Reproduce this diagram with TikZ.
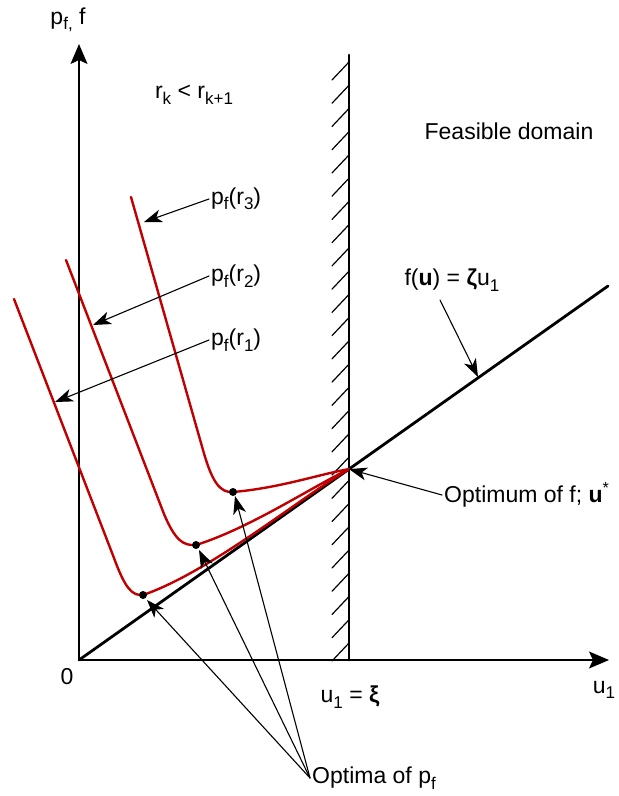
\documentclass[tikz,border=0pt]{standalone}
\usepackage{fontspec}
\setmainfont{Liberation Sans}
\usetikzlibrary{arrows.meta,calc}
\definecolor{penRed}{HTML}{C00000}
\newcommand\lowsub[1]{\raisebox{-0.45ex}{\fontsize{17}{19}\selectfont #1}}
\begin{document}
\begin{tikzpicture}[x=1pt,y=-1pt,>=Stealth,line cap=round,line join=round]
\path[fill=white] (0,0) rectangle (619,796);
\tikzset{axis/.style={draw=black,line width=1.4pt,-{Stealth[length=20pt,width=17pt,inset=4pt]}},txt/.style={font=\fontsize{23}{27}\selectfont,inner sep=2pt},pointer/.style={draw=black,line width=1.1pt,-{Stealth[length=18pt,width=13pt,inset=5pt]}},pcurve/.style={draw=penRed,line width=2.4pt},hatch/.style={draw=black,line width=1.2pt},dot/.style={fill=black}}
% axes and constraint
\coordinate (O) at (79,660); \coordinate (ytip) at (79,44); \coordinate (xtip) at (609,660);
\coordinate (walltop) at (349,55); \coordinate (wallfoot) at (349,660); \coordinate (fend) at (608,286);
\coordinate (ustar) at ($(O)!0.5104!(fend)$);
\draw[axis] (O) -- (ytip); \draw[axis] (O) -- (xtip);
\foreach \k in {0,...,25} \draw[hatch] (349,62+23.24*\k) -- ++(-17,18);
\draw[draw=black,line width=2.8pt] (walltop) -- (wallfoot);
\draw[draw=black,line width=2.8pt] (O) -- (fend);
% penalty curves
\coordinate (opt3) at (233,492); \coordinate (opt2) at (196,545); \coordinate (opt1) at (143,595);
\draw[pcurve] (131,197) -- (203,450) .. controls (212,482) and (220,493) .. (opt3) .. controls (280,488) and (320,474) .. (ustar);
\draw[pcurve] (66,260) -- (164,514) .. controls (175,540) and (183,546) .. (opt2) .. controls (250,528) and (310,488) .. (ustar);
\draw[pcurve] (14,299) -- (114,558) .. controls (125,588) and (132,596) .. (opt1) .. controls (210,572) and (300,498) .. (ustar);
\foreach \p in {opt1,opt2,opt3} \fill[dot] (\p) circle (4);
% labels
\node[txt] (yaxislabel) at (68,20) {p\lowsub{f,} f};
\node[txt] (zerolabel) at (67,677) {0};
\node[txt] (xaxislabel) at (604,690) {u\lowsub{1}};
\node[txt] (ratiolabel) at (194,95) {r\lowsub{k} < r\lowsub{k+1}};
\node[txt] (feasible) at (509,131) {Feasible domain};
\node[txt] (flabel) at (452,280) {f(\textbf{u}) = \textbf{ζ}u\lowsub{1}};
\node[txt,anchor=west] (pr3) at (209,199) {p\lowsub{f}(r\lowsub{3})};
\node[txt,anchor=west] (pr2) at (209,276) {p\lowsub{f}(r\lowsub{2})};
\node[txt,anchor=west] (pr1) at (209,340) {p\lowsub{f}(r\lowsub{1})};
\node[txt,anchor=west] (ustarlabel) at (442,495) {Optimum of f; \textbf{u}\textsuperscript{*}};
\node[txt] (xilabel) at (350,697) {u\lowsub{1} = \textbf{ξ}};
\node[txt,anchor=west] (optimalabel) at (310,778) {Optima of p\lowsub{f}};
% pointers
\coordinate (fstart) at (440,300); \coordinate (fhit) at (478,377);
\coordinate (r3hit) at (144,222); \coordinate (r2hit) at (93,325); \coordinate (r1hit) at (55,402);
\draw[pointer] (fstart) -- (fhit);
\draw[pointer] (pr3.west) -- (r3hit); \draw[pointer] (pr2.west) -- (r2hit); \draw[pointer] (pr1.west) -- (r1hit);
\draw[pointer] (ustarlabel.west) -- (ustar);
\draw[pointer] (optimalabel.west) -- ($(opt3)+(2,4)$); \draw[pointer] (optimalabel.west) -- ($(opt2)+(3,5)$); \draw[pointer] (optimalabel.west) -- ($(opt1)+(4,5)$);
\end{tikzpicture}
\end{document}
